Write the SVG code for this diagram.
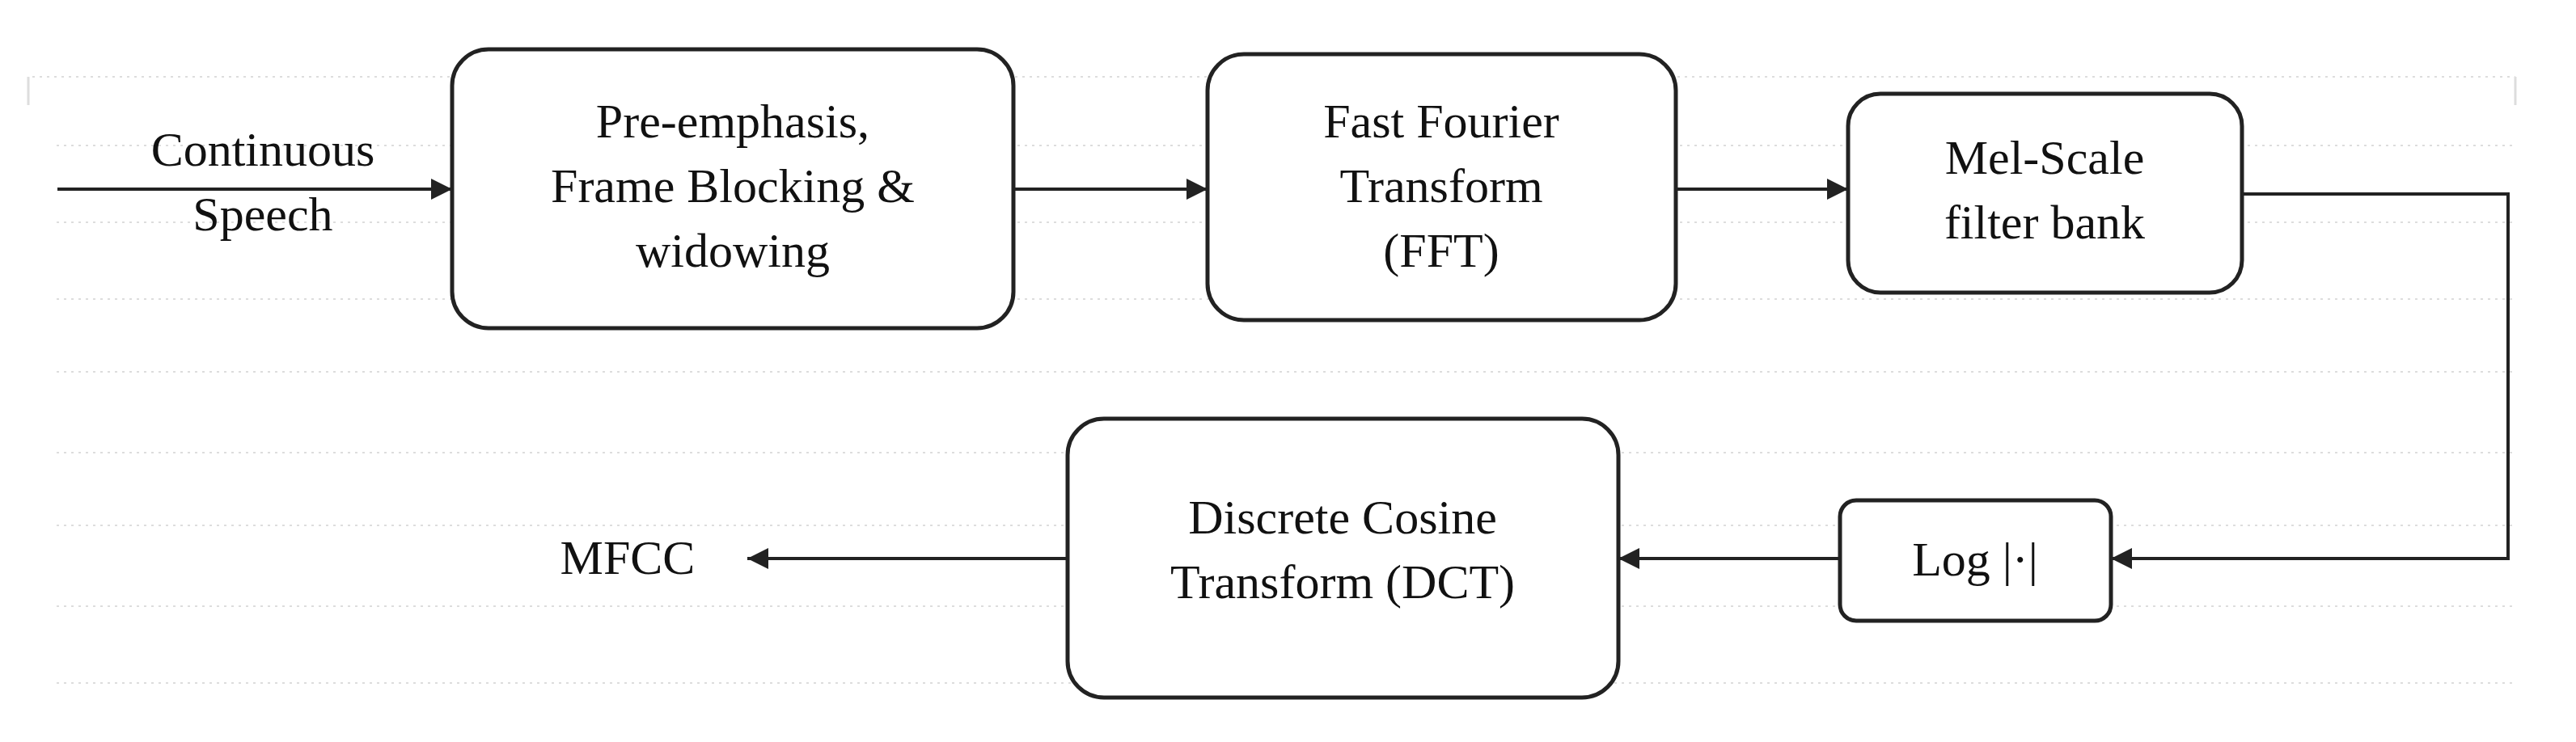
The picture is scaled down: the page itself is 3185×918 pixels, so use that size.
<svg xmlns="http://www.w3.org/2000/svg" width="3185" height="918" viewBox="0 0 3185 918">
<defs>
<style>
.b{fill:#fff;stroke:#222;stroke-width:5}
.t{font-family:"Liberation Serif",serif;font-size:60px;fill:#111;text-anchor:middle}
.c{fill:none;stroke:#222;stroke-width:4}
.g{stroke:#ddd;stroke-width:2;stroke-dasharray:3 6}
</style>
<marker id="a" viewBox="0 0 10 10" refX="10" refY="5" markerWidth="34" markerHeight="26" markerUnits="userSpaceOnUse" orient="auto"><path d="M0,0L10,5L0,10z" fill="#222"/></marker>
</defs>
<rect width="3185" height="918" fill="#fff"/>
<g>
<path class="g" d="M40,95H3110M70,180H3110M70,275H3110M70,370H3110M70,460H3110M70,560H3110M70,650H3110M70,750H3110M70,845H3110"/>
<path d="M35,95V130M3110,95V130" stroke="#ddd" stroke-width="3"/>
</g>
<g id="connectors">
<path class="c" d="M71,234H559" marker-end="url(#a)"/>
<path class="c" d="M1253,234H1493" marker-end="url(#a)"/>
<path class="c" d="M2072,234H2285" marker-end="url(#a)"/>
<path class="c" d="M2772,240H3101V691H2610" marker-end="url(#a)"/>
<path class="c" d="M2275,691H2001" marker-end="url(#a)"/>
<path class="c" d="M1320,691H924" marker-end="url(#a)"/>
</g>
<g id="input"><text class="t" x="325" y="205">Continuous</text><text class="t" x="325" y="285">Speech</text></g>
<g id="n1"><rect class="b" x="559" y="61" width="694" height="345" rx="45"/><text class="t" x="906" y="170">Pre-emphasis,</text><text class="t" x="906" y="250">Frame Blocking &amp;</text><text class="t" x="906" y="330">widowing</text></g>
<g id="n2"><rect class="b" x="1493" y="67" width="579" height="329" rx="45"/><text class="t" x="1782" y="170">Fast Fourier</text><text class="t" x="1782" y="250">Transform</text><text class="t" x="1782" y="330">(FFT)</text></g>
<g id="n3"><rect class="b" x="2285" y="116" width="487" height="246" rx="40"/><text class="t" x="2528" y="215">Mel-Scale</text><text class="t" x="2528" y="295">filter bank</text></g>
<g id="n4"><rect class="b" x="1320" y="518" width="681" height="345" rx="45"/><text class="t" x="1660" y="660">Discrete Cosine</text><text class="t" x="1660" y="740">Transform (DCT)</text></g>
<g id="n5"><rect class="b" x="2275" y="619" width="335" height="149" rx="20"/><text class="t" x="2442" y="712">Log |·|</text></g>
<g id="out"><text class="t" x="776" y="710">MFCC</text></g>
</svg>
